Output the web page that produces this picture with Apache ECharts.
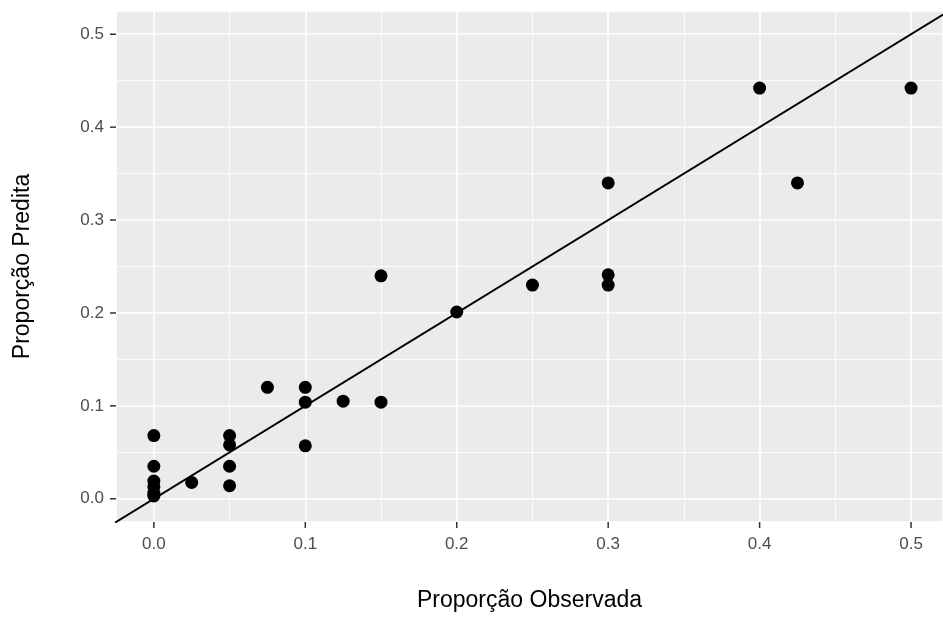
<!DOCTYPE html>
<html lang="pt">
<head>
    <meta charset="UTF-8">
    <title>Proporção Observada x Predita</title>
    <script src="https://cdn.jsdelivr.net/npm/echarts@6/dist/echarts.min.js"></script>
    <style>
        html, body { margin: 0; padding: 0; background: #fff; }
        #box { width: 943px; height: 619px; }
    </style>
</head>
<body>
<div id="box"></div>
<script>
    // valores
    var obsX = [0, 0, 0, 0, 0, 0, 0.025, 0.05, 0.05, 0.05, 0.05, 0.075, 0.1, 0.1, 0.1,
        0.125, 0.15, 0.15, 0.2, 0.25, 0.3, 0.3, 0.3, 0.4, 0.425, 0.5];
    var predY = [0.068, 0.035, 0.019, 0.013, 0.006, 0.003, 0.0175, 0.068, 0.058, 0.035, 0.014, 0.12, 0.12, 0.104, 0.057,
        0.105, 0.24, 0.104, 0.201, 0.23, 0.34, 0.241, 0.23, 0.442, 0.34, 0.442];
    // reta identidade y = x
    var lineX = [-0.1, 0.7];
    var tickVals = [0, 0.1, 0.2, 0.3, 0.4, 0.5];

    var xMin = -0.025, xMax = 0.5211;
    var yMin = -0.025, yMax = 0.525;

    var points = obsX.map(function (x, i) { return [x, predY[i]]; });
    var refLine = lineX.map(function (v) { return [v, v]; });

    function labelStyle(margin) {
        return {
            margin: margin,
            color: '#4D4D4D',
            fontSize: 17,
            fontFamily: 'Liberation Sans',
            customValues: tickVals,
            formatter: function (v) { return v.toFixed(1); }
        };
    }
    var titleStyle = { color: '#000', fontSize: 23, fontFamily: 'Liberation Sans' };
    var tickLine = { stroke: '#333', lineWidth: 1.5 };

    // marcas dos eixos desenhadas pela escala do proprio grafico
    function xTicks(params, api) {
        var p = api.coord([api.value(0), api.value(1)]);
        return { type: 'line', shape: { x1: p[0], y1: p[1], x2: p[0], y2: p[1] + 6 }, style: tickLine };
    }
    function yTicks(params, api) {
        var p = api.coord([api.value(0), api.value(1)]);
        return { type: 'line', shape: { x1: p[0] - 6, y1: p[1], x2: p[0], y2: p[1] }, style: tickLine };
    }

    var myChart = echarts.init(document.getElementById('box'));
    var option = {
        animation: false,
        grid: {
            left: 116,
            right: 0,
            top: 11,
            bottom: 97,
            outerBoundsMode: 'none',
            show: true,
            backgroundColor: '#EBEBEB',
            borderWidth: 0
        },
        xAxis: {
            type: 'value',
            min: xMin,
            max: xMax,
            splitNumber: 5,
            name: 'Proporção Observada',
            nameLocation: 'middle',
            nameGap: 67,
            nameTextStyle: titleStyle,
            axisLine: { show: false, onZero: false },
            axisTick: { show: false },
            axisLabel: labelStyle(14),
            splitLine: { show: true, lineStyle: { color: '#fff', width: 1.6 } },
            minorTick: { show: false, splitNumber: 2 },
            minorSplitLine: { show: true, lineStyle: { color: '#fff', width: 0.8 } }
        },
        yAxis: {
            type: 'value',
            min: yMin,
            max: yMax,
            splitNumber: 5,
            name: 'Proporção Predita',
            nameLocation: 'middle',
            nameGap: 82,
            nameTextStyle: titleStyle,
            axisLine: { show: false, onZero: false },
            axisTick: { show: false },
            axisLabel: labelStyle(12),
            splitLine: { show: true, lineStyle: { color: '#fff', width: 1.6 } },
            minorTick: { show: false, splitNumber: 2 },
            minorSplitLine: { show: true, lineStyle: { color: '#fff', width: 0.8 } }
        },
        series: [
            {
                type: 'scatter',
                data: points,
                symbolSize: 13,
                itemStyle: { color: '#000', opacity: 1 },
                z: 2
            },
            {
                type: 'line',
                data: refLine,
                showSymbol: false,
                clip: true,
                lineStyle: { color: '#000', width: 2 },
                z: 3
            },
            {
                type: 'custom',
                data: tickVals.map(function (v) { return [v, yMin]; }),
                renderItem: xTicks,
                clip: false,
                silent: true
            },
            {
                type: 'custom',
                data: tickVals.map(function (v) { return [xMin, v]; }),
                renderItem: yTicks,
                clip: false,
                silent: true
            }
        ]
    };
    myChart.setOption(option);
</script>
</body>
</html>
